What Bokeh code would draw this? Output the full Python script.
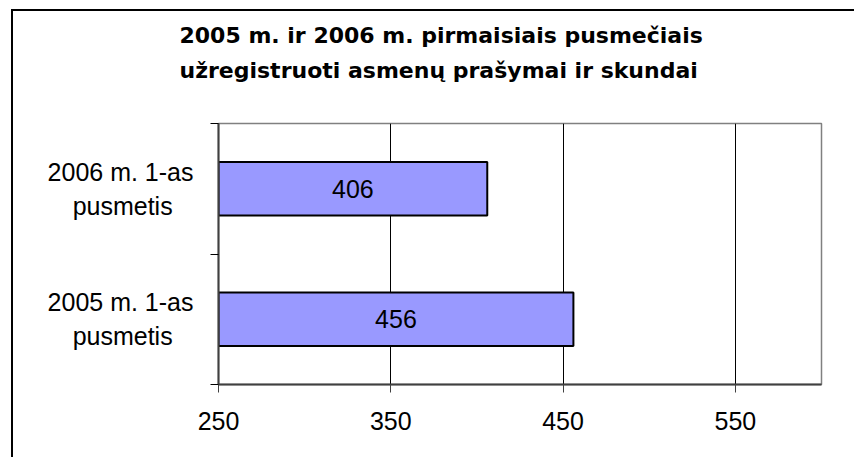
from bokeh.plotting import figure
from bokeh.models import Range1d, FixedTicker, Title, ColumnDataSource
from bokeh.core.properties import value
from bokeh.embed import file_html
from bokeh.resources import INLINE

# ---- data ----
categories = ["2005 m. 1-as\npusmetis\u00a0\u00a0\u00a0", "2006 m. 1-as\npusmetis\u00a0\u00a0\u00a0"]
values = [456, 406]
x_ticks = [250, 350, 450, 550]
x_start = 250
x_end = 600
title_lines = ["2005 m. ir 2006 m. pirmaisiais pusmečiais",
               "užregistruoti asmenų prašymai ir skundai"]

ypos = [i + 0.5 for i in range(len(categories))]
src = ColumnDataSource(dict(
    y=ypos,
    right=values,
    left=[x_start] * len(values),
    xmid=[(x_start + v) / 2 for v in values],
    label=[str(v) for v in values],
))

p = figure(width=843, height=448, output_backend="svg", toolbar_location=None,
           x_range=Range1d(x_start, x_end), y_range=Range1d(0, len(categories)),
           min_border_left=205, min_border_right=35, min_border_top=112, min_border_bottom=75)
p.styles = {"border-left": "2px solid black", "border-top": "2px solid black",
            "margin-left": "11px", "margin-top": "9px"}

p.background_fill_color = "white"
p.border_fill_color = "white"
p.outline_line_color = "#808080"
p.outline_line_width = 1.5

p.hbar(y="y", left="left", right="right", height=0.41, source=src,
       fill_color="#9999FF", line_color="black", line_width=2)
p.text(x="xmid", y="y", text="label", source=src, text_align="center",
       text_baseline="middle", text_font=value("Liberation Sans"),
       text_font_size="25px", text_color="black")

# x axis
xt = FixedTicker(ticks=x_ticks)
p.xaxis.ticker = xt
p.xgrid.ticker = xt
p.xgrid.grid_line_color = "black"
p.xgrid.grid_line_width = 1
p.ygrid.grid_line_color = None
p.xaxis.major_tick_out = 8
p.xaxis.major_tick_in = 0
p.xaxis.minor_tick_out = 0
p.xaxis.minor_tick_in = 0
p.xaxis.axis_line_color = "#404040"
p.xaxis.axis_line_width = 2
p.xaxis.major_tick_line_color = "#404040"
p.xaxis.major_tick_line_width = 1
p.xaxis.major_label_text_font = "Liberation Sans"
p.xaxis.major_label_text_font_size = "25px"
p.xaxis.major_label_text_color = "black"
p.xaxis.major_label_standoff = 19

# y axis
yt = FixedTicker(ticks=ypos, minor_ticks=list(range(len(categories) + 1)))
p.yaxis.ticker = yt
p.yaxis.major_label_overrides = {y: c for y, c in zip(ypos, categories)}
p.yaxis.major_tick_out = 0
p.yaxis.major_tick_in = 0
p.yaxis.minor_tick_out = 8
p.yaxis.minor_tick_in = 0
p.yaxis.minor_tick_line_color = "black"
p.yaxis.axis_line_color = "#404040"
p.yaxis.axis_line_width = 2
p.yaxis.major_label_text_font = "Liberation Sans"
p.yaxis.major_label_text_font_size = "25px"
p.yaxis.major_label_text_color = "black"
p.yaxis.major_label_standoff = 17

# trailing empty line leaves the gap between the title and the plot frame
p.title = Title(text="\n".join(title_lines) + "\n", align="left", offset=-39, standoff=12,
                vertical_align="bottom",
                text_font="DejaVu Sans", text_font_size="22px", text_font_style="bold",
                text_color="black", text_line_height=1.4)

open("out.html", "w").write(file_html(p, INLINE))
